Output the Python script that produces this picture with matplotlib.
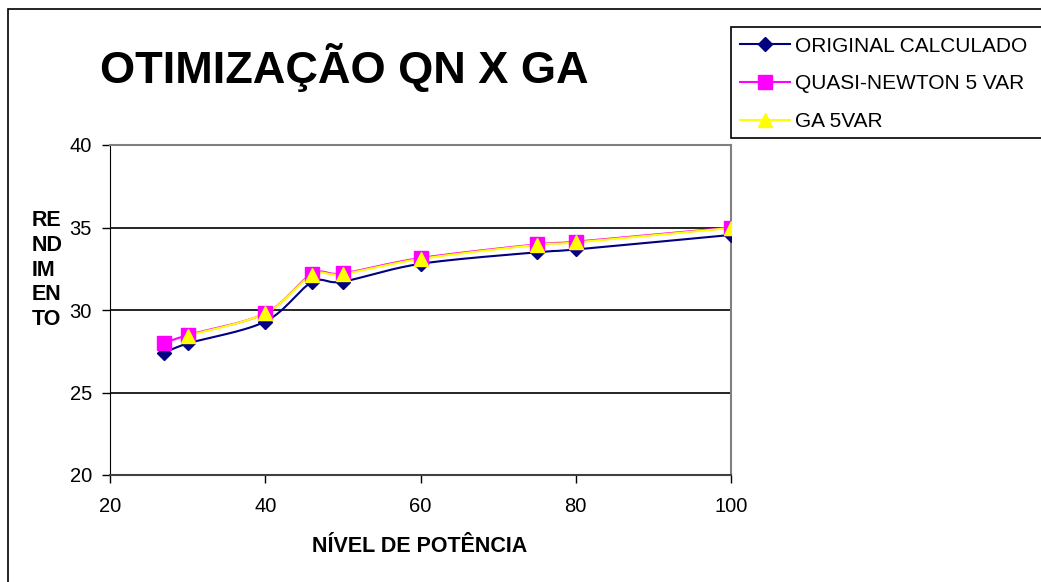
import matplotlib.pyplot as plt
import numpy as np
from matplotlib.patches import Rectangle

plt.rcParams['font.family'] = ['Liberation Sans', 'DejaVu Sans']

# series data
nivel_original = [27, 30, 40, 46, 50, 60, 75, 80, 100]
rend_original = [27.38, 27.97, 29.3, 31.68, 31.72, 32.8, 33.5, 33.67, 34.55]

nivel_qn = [27, 30, 40, 46, 50, 60, 75, 80, 100]
rend_qn = [27.98, 28.48, 29.8, 32.18, 32.22, 33.15, 33.98, 34.14, 35.0]

nivel_ga = [30, 40, 46, 50, 60, 75, 80, 100]
rend_ga = [28.45, 29.8, 32.12, 32.18, 33.1, 33.95, 34.1, 34.97]

x_ticks = [20, 40, 60, 80, 100]
y_ticks = [20, 25, 30, 35, 40]


# smoothed line through the points (catmull-rom style bezier, like a spreadsheet "smoothed line")
def smooth(x, y, n=30):
    p = np.column_stack([x, y]).astype(float)
    pts = [p[0]]
    for i in range(len(p) - 1):
        p0 = p[i - 1] if i > 0 else p[i]
        p3 = p[i + 2] if i + 2 < len(p) else p[i + 1]
        c1 = p[i] + (p[i + 1] - p0) / 6
        c2 = p[i + 1] - (p3 - p[i]) / 6
        t = np.linspace(0, 1, n)[1:, None]
        seg = ((1 - t) ** 3 * p[i] + 3 * (1 - t) ** 2 * t * c1
               + 3 * (1 - t) * t ** 2 * c2 + t ** 3 * p[i + 1])
        pts.extend(seg)
    pts = np.array(pts)
    return pts[:, 0], pts[:, 1]


W, H = 1041, 582
fig = plt.figure(figsize=(W / 100, H / 100), dpi=100)
ax = fig.add_axes([110 / W, 1 - 475 / H, 621 / W, 330 / H])

series = [
    (nivel_original, rend_original, '#000080', 'D', 7, 'ORIGINAL CALCULADO'),
    (nivel_qn, rend_qn, '#FF00FF', 's', 10, 'QUASI-NEWTON 5 VAR'),
    (nivel_ga, rend_ga, '#FFFF00', '^', 10, 'GA 5VAR'),
]
handles = []
for xs, ys, col, mk, ms, lab in series:
    sx, sy = smooth(xs, ys)
    ax.plot(sx, sy, color=col, lw=1.5, zorder=3)
    ax.plot(xs, ys, linestyle='none', marker=mk, markersize=ms, color=col,
            markeredgecolor=col, zorder=4)
    h, = plt.plot([], [], color=col, lw=1.5, marker=mk, markersize=ms,
                  markeredgecolor=col)
    handles.append((h, lab))

ax.set_xlim(20, 100)
ax.set_ylim(20, 40)
ax.set_xticks(x_ticks)
ax.set_yticks(y_ticks)
for v in y_ticks[1:-1]:
    ax.axhline(v, color='black', lw=1.2, zorder=1)

ax.spines['left'].set_color('black')
ax.spines['bottom'].set_color('#404040')
ax.spines['bottom'].set_linewidth(1.5)
ax.spines['top'].set_color('#808080')
ax.spines['right'].set_color('#808080')
ax.spines['top'].set_linewidth(1.5)
ax.spines['right'].set_linewidth(1.5)
ax.tick_params(direction='out', length=6, width=1, labelsize=14.5, pad=7)
ax.tick_params(axis='x', pad=10)

fig.text(100 / W, 1 - 68 / H, 'OTIMIZAÇÃO QN X GA', fontsize=32.5,
         fontweight='bold', va='center', ha='left')
fig.text(32 / W, 1 - 270 / H, 'RE\nND\nIM\nEN\nTO', fontsize=15.5,
         fontweight='bold', va='center', ha='left', linespacing=1.22)
fig.text(420 / W, 1 - 546 / H, 'NÍVEL DE POTÊNCIA', fontsize=15.5,
         fontweight='bold', va='center', ha='center')

# outer chart border (left and top edges)
fig.add_artist(Rectangle((8 / W, -0.1), 1.2, 1 - 9 / H + 0.1, transform=fig.transFigure,
                         fill=False, edgecolor='black', lw=1.2))

# legend box
fig.add_artist(Rectangle((731 / W, 1 - 138 / H), 0.5, 111 / H, transform=fig.transFigure,
                         facecolor='white', edgecolor='black', lw=1.2))
leg = fig.legend([h for h, _ in handles], [l for _, l in handles],
                 loc='upper left', bbox_to_anchor=(723 / W, 1 - 20 / H),
                 frameon=False, fontsize=15, handlelength=2.4,
                 handletextpad=0.25, labelspacing=0.9, borderpad=0.3)

fig.savefig('out.png', dpi=100, facecolor='white')
